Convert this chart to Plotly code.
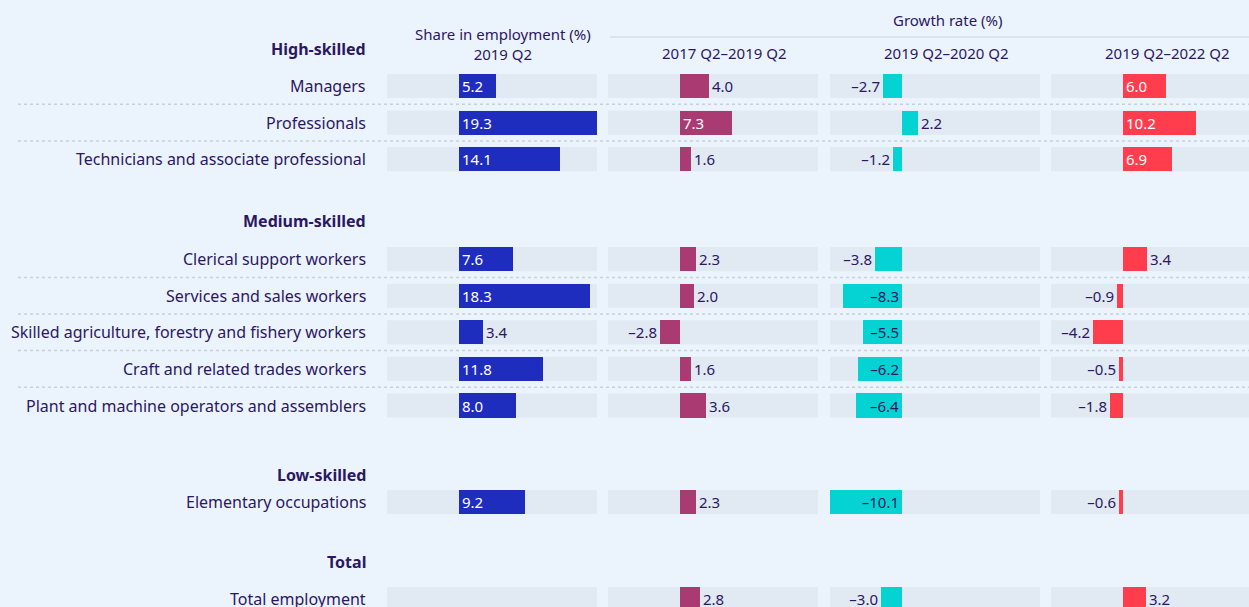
import plotly.graph_objects as go

# data
groups = ["High-skilled", "Medium-skilled", "Low-skilled", "Total"]
occupations = [
    ["Managers", "Professionals", "Technicians and associate professional"],
    ["Clerical support workers", "Services and sales workers",
     "Skilled agriculture, forestry and fishery workers",
     "Craft and related trades workers",
     "Plant and machine operators and assemblers"],
    ["Elementary occupations"],
    ["Total employment"],
]
share_2019 = [5.2, 19.3, 14.1, 7.6, 18.3, 3.4, 11.8, 8.0, 9.2, None]
growth_17_19 = [4.0, 7.3, 1.6, 2.3, 2.0, -2.8, 1.6, 3.6, 2.3, 2.8]
growth_19_20 = [-2.7, 2.2, -1.2, -3.8, -8.3, -5.5, -6.2, -6.4, -10.1, -3.0]
growth_19_22 = [6.0, 10.2, 6.9, 3.4, -0.9, -4.2, -0.5, -1.8, -0.6, 3.2]
panel_titles = ["Share in employment (%)<br>2019 Q2", "2017 Q2–2019 Q2",
                "2019 Q2–2020 Q2", "2019 Q2–2022 Q2"]

W, H = 1249, 607
BG = "#EBF4FD"
BOX = "#E1E9F3"
INK = "#2B1762"
FONT = "Noto Sans"

# vertical layout: (gap before header, gap header -> first row)
spacing = [(0.0, 1.0), (1.7, 1.03), (1.9, 0.74), (1.63, 1.02)]
header_pos, row_pos, row_labels = [], [], []
cur = 0.0
for (gap, first), name, items in zip(spacing, groups, occupations):
    cur += gap
    header_pos.append(cur)
    cur += first
    for j, it in enumerate(items):
        if j:
            cur += 1.0
        row_pos.append(cur)
        row_labels.append(it)

# horizontal layout in pixels
panels = [(387, 597), (608, 818), (830, 1040), (1051, 1249)]
px_per_unit = 210 / 29.45
xmin = -10.1

series = [share_2019, growth_17_19, growth_19_20, growth_19_22]
colors = ["#1F2DBF", "#A93B72", "#05D3D3", "#FF3D4D"]
inside_col = ["white", "white", INK, "white"]


def fmt(v):
    return "" if v is None else f"{v:.1f}".replace("-", "–")


fig = go.Figure()
shapes, annotations = [], []
for k, (vals, col) in enumerate(zip(series, colors)):
    xa = "x" if k == 0 else f"x{k + 1}"
    pos = ["inside" if (v is not None and abs(v) >= 5) else "outside" for v in vals]
    fig.add_trace(go.Bar(
        x=vals, y=row_pos, orientation="h", width=0.66,
        marker=dict(color=col, line=dict(width=0)),
        text=[fmt(v) for v in vals], textposition=pos,
        insidetextanchor="start", textangle=0, constraintext="none",
        insidetextfont=dict(color=inside_col[k], size=15, family=FONT),
        outsidetextfont=dict(color=INK, size=15, family=FONT),
        cliponaxis=False, xaxis=xa, yaxis="y", showlegend=False,
        hoverinfo="skip",
    ))
    x0, x1 = panels[k]
    xmax = xmin + (x1 - x0) / px_per_unit
    fig.update_layout(**{
        ("xaxis" if k == 0 else f"xaxis{k + 1}"): dict(
            domain=[x0 / W, x1 / W], range=[xmin, xmax], visible=False,
            anchor="y", fixedrange=True)
    })
    for y in row_pos:
        shapes.append(dict(type="rect", xref=f"{xa} domain", yref="y",
                           x0=0, x1=1, y0=y - 0.33, y1=y + 0.33,
                           fillcolor=BOX, line=dict(width=0), layer="below"))
    cx = (x0 + 116) / W
    annotations.append(dict(
        text=panel_titles[k], x=cx, xref="paper", xanchor="center",
        y=1 - (44.5 if k == 0 else 53) / H, yref="paper", yanchor="middle",
        showarrow=False, font=dict(size=15, color=INK, family=FONT)))

# row and group labels
for y, lab in zip(row_pos, row_labels):
    annotations.append(dict(text=lab, x=368 / W, xref="paper", xanchor="right",
                            y=y, yref="y", yanchor="middle", showarrow=False,
                            font=dict(size=16, color=INK, family=FONT)))
for y, g in zip(header_pos, groups):
    annotations.append(dict(text=f"<b>{g}</b>", x=368 / W, xref="paper",
                            xanchor="right", y=y, yref="y", yanchor="middle",
                            showarrow=False,
                            font=dict(size=16, color=INK, family=FONT)))

annotations.append(dict(text="Growth rate (%)", x=948 / W, xref="paper",
                        xanchor="center", y=1 - 20 / H, yref="paper",
                        yanchor="middle", showarrow=False,
                        font=dict(size=15, color=INK, family=FONT)))
shapes.append(dict(type="line", xref="paper", yref="paper", x0=610 / W, x1=1,
                   y0=1 - 37 / H, y1=1 - 37 / H,
                   line=dict(color="#C9D3DE", width=1)))

# dotted separators between rows of the same group
idx = 0
for items in occupations:
    for j in range(len(items) - 1):
        ym = (row_pos[idx + j] + row_pos[idx + j + 1]) / 2
        shapes.append(dict(type="line", xref="paper", yref="y", x0=18 / W, x1=1,
                           y0=ym, y1=ym,
                           line=dict(color="#C5D0DC", width=1.5, dash="dot")))
    idx += len(items)

top = 1 - 86 / 36.6
fig.update_layout(
    width=W, height=H, margin=dict(l=0, r=0, t=0, b=0),
    paper_bgcolor=BG, plot_bgcolor=BG, bargap=0,
    yaxis=dict(range=[top + H / 36.6, top], visible=False, fixedrange=True),
    shapes=shapes, annotations=annotations,
    font=dict(family=FONT, color=INK),
)

fig.write_html("out.html", config={"displayModeBar": False},
               post_script="document.body.style.margin='0px';")
